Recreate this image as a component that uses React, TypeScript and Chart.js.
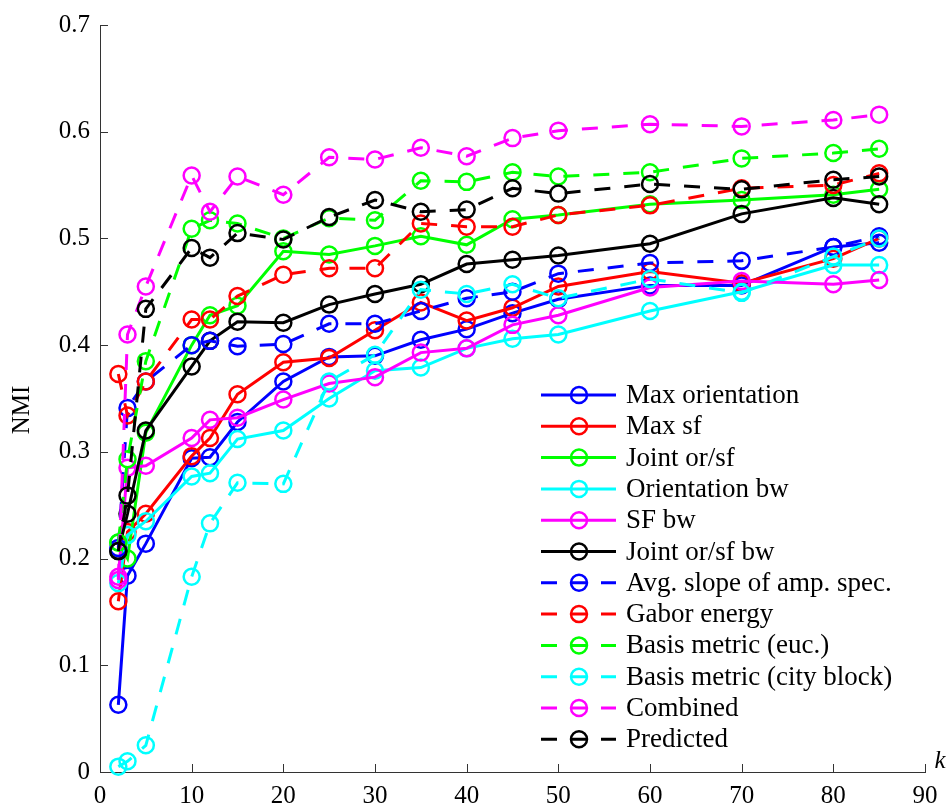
import React, { useEffect, useRef } from "react";
import { Chart, registerables } from "chart.js";

Chart.register(...registerables);

// ---- Data ----
const K = [2, 3, 5, 10, 12, 15, 20, 25, 30, 35, 40, 45, 50, 60, 70, 80, 85];

const maxOrientation = [0.063, 0.184, 0.214, 0.294, 0.295, 0.328, 0.366, 0.389, 0.39, 0.405, 0.415, 0.43, 0.443, 0.456, 0.456, 0.492, 0.496];
const maxSf = [0.16, 0.225, 0.242, 0.296, 0.313, 0.354, 0.384, 0.388, 0.414, 0.44, 0.423, 0.435, 0.455, 0.469, 0.458, 0.481, 0.5];
const jointOrSf = [0.215, 0.2, 0.318, 0.4, 0.428, 0.437, 0.488, 0.485, 0.493, 0.502, 0.494, 0.518, 0.522, 0.532, 0.536, 0.541, 0.546];
const orientationBw = [0.177, 0.222, 0.235, 0.277, 0.28, 0.312, 0.32, 0.35, 0.376, 0.379, 0.397, 0.406, 0.41, 0.432, 0.45, 0.475, 0.475];
const sfBw = [0.183, 0.285, 0.287, 0.313, 0.33, 0.332, 0.349, 0.364, 0.37, 0.393, 0.397, 0.419, 0.428, 0.454, 0.46, 0.457, 0.461];
const jointOrSfBw = [0.207, 0.242, 0.32, 0.38, 0.404, 0.422, 0.421, 0.438, 0.448, 0.457, 0.476, 0.48, 0.484, 0.495, 0.523, 0.538, 0.532];
const avgSlope = [0.21, 0.341, 0.366, 0.4, 0.404, 0.399, 0.401, 0.42, 0.42, 0.432, 0.444, 0.45, 0.467, 0.477, 0.479, 0.492, 0.502];
const gaborEnergy = [0.373, 0.334, 0.366, 0.424, 0.424, 0.446, 0.466, 0.472, 0.472, 0.514, 0.511, 0.511, 0.522, 0.531, 0.547, 0.55, 0.561];
const basisEuc = [0.215, 0.293, 0.385, 0.509, 0.517, 0.514, 0.5, 0.519, 0.517, 0.554, 0.553, 0.562, 0.558, 0.562, 0.575, 0.58, 0.584];
const basisCity = [0.005, 0.01, 0.025, 0.183, 0.233, 0.271, 0.27, 0.366, 0.391, 0.452, 0.448, 0.457, 0.444, 0.462, 0.449, 0.483, 0.5];
const combined = [0.18, 0.41, 0.455, 0.559, 0.525, 0.558, 0.541, 0.576, 0.574, 0.585, 0.577, 0.594, 0.601, 0.607, 0.605, 0.611, 0.616];
const predicted = [0.207, 0.259, 0.434, 0.491, 0.482, 0.505, 0.499, 0.52, 0.536, 0.525, 0.527, 0.547, 0.542, 0.551, 0.546, 0.555, 0.558];

const LABELS = [
  "Max orientation",
  "Max sf",
  "Joint or/sf",
  "Orientation bw",
  "SF bw",
  "Joint or/sf bw",
  "Avg. slope of amp. spec.",
  "Gabor energy",
  "Basis metric (euc.)",
  "Basis metric (city block)",
  "Combined",
  "Predicted",
];
const VALUES = [
  maxOrientation, maxSf, jointOrSf, orientationBw, sfBw, jointOrSfBw,
  avgSlope, gaborEnergy, basisEuc, basisCity, combined, predicted,
];
const COLORS = ["#0000ff", "#ff0000", "#00ff00", "#00ffff", "#ff00ff", "#000000",
  "#0000ff", "#ff0000", "#00ff00", "#00ffff", "#ff00ff", "#000000"];
const DASHED = [false, false, false, false, false, false, true, true, true, true, true, true];

const X_MIN = 0, X_MAX = 90, X_STEP = 10;
const Y_MIN = 0, Y_MAX = 0.7, Y_STEP = 0.1;
const X_LABEL = "k";
const Y_LABEL = "NMI";

const FONT = "'Liberation Serif', 'Times New Roman', serif";
const DASH = [16, 14];

const decorPlugin = {
  id: "decor",
  afterDraw(chart: any) {
    const ctx = chart.ctx;
    const { left, right, bottom } = chart.chartArea;
    const xs = chart.scales.x;
    const ys = chart.scales.y;
    ctx.save();
    // inward tick marks
    ctx.strokeStyle = "#333";
    ctx.lineWidth = 1;
    ctx.beginPath();
    for (let v = X_MIN + X_STEP; v <= X_MAX + 1e-9; v += X_STEP) {
      const px = Math.round(xs.getPixelForValue(v)) + 0.5;
      ctx.moveTo(px, bottom);
      ctx.lineTo(px, bottom - 8);
    }
    for (let i = 1; i * Y_STEP <= Y_MAX + 1e-9; i++) {
      const py = Math.round(ys.getPixelForValue(i * Y_STEP)) + 0.5;
      ctx.moveTo(left, py);
      ctx.lineTo(left + 8, py);
    }
    ctx.stroke();

    // axis labels
    ctx.fillStyle = "#000";
    ctx.font = `italic 25px ${FONT}`;
    ctx.textAlign = "center";
    ctx.textBaseline = "alphabetic";
    ctx.fillText(X_LABEL, right + 15, bottom - 4);

    ctx.save();
    ctx.translate(22, 410);
    ctx.rotate(-Math.PI / 2);
    ctx.font = `25px ${FONT}`;
    ctx.textBaseline = "middle";
    ctx.fillText(Y_LABEL, 0, 0);
    ctx.restore();

    // legend
    const lx0 = 541, lx1 = 616, mx = 579, tx = 626;
    const y0 = 395, dy = 31.3;
    LABELS.forEach((lab, i) => {
      const y = y0 + i * dy;
      const c = COLORS[i];
      ctx.strokeStyle = c;
      ctx.lineWidth = 3;
      ctx.setLineDash(DASHED[i] ? DASH : []);
      ctx.beginPath();
      ctx.moveTo(lx0, y);
      ctx.lineTo(lx1, y);
      ctx.stroke();
      ctx.setLineDash([]);
      ctx.lineWidth = 2.5;
      ctx.beginPath();
      ctx.arc(mx, y, 8, 0, Math.PI * 2);
      ctx.stroke();
      ctx.fillStyle = "#000";
      ctx.font = `27px ${FONT}`;
      ctx.textAlign = "left";
      ctx.textBaseline = "middle";
      ctx.fillText(lab, tx, y + 1);
    });
    ctx.restore();
  },
};

export default function App() {
  const ref = useRef<HTMLCanvasElement | null>(null);

  useEffect(() => {
    if (!ref.current) return;
    const n = LABELS.length;
    const datasets = LABELS.map((label, i) => ({
      label,
      data: K.map((k, j) => ({ x: k, y: VALUES[i][j] })),
      borderColor: COLORS[i],
      backgroundColor: "rgba(0,0,0,0)",
      pointBorderColor: COLORS[i],
      pointBackgroundColor: "rgba(0,0,0,0)",
      borderWidth: 3,
      pointRadius: 8,
      pointBorderWidth: 2.5,
      pointHoverRadius: 8,
      borderDash: DASHED[i] ? DASH : [],
      tension: 0,
      fill: false,
      clip: false as any,
      order: n - 1 - i,
    }));

    const chart = new Chart(ref.current, {
      type: "line",
      data: { datasets },
      options: {
        animation: false,
        responsive: false,
        devicePixelRatio: 1,
        layout: { padding: { left: 0, right: 25, top: 22, bottom: 0 } },
        plugins: { legend: { display: false }, tooltip: { enabled: false } },
        scales: {
          x: {
            type: "linear",
            min: X_MIN,
            max: X_MAX,
            ticks: {
              stepSize: X_STEP,
              color: "#000",
              font: { family: FONT, size: 25 },
              padding: 9,
              maxRotation: 0,
              autoSkip: false,
            },
            grid: { display: true, drawOnChartArea: false, drawTicks: false },
            border: { display: true, color: "#333", width: 1 },
            afterFit: (s: any) => { s.height = 34; },
          },
          y: {
            type: "linear",
            min: Y_MIN,
            max: Y_MAX,
            ticks: {
              stepSize: Y_STEP,
              color: "#000",
              font: { family: FONT, size: 25 },
              padding: 10,
              callback: (v: any) => (Math.abs(v) < 1e-9 ? "0" : Number(v).toFixed(1)),
            },
            grid: { display: true, drawOnChartArea: false, drawTicks: false },
            border: { display: true, color: "#333", width: 1 },
            afterFit: (s: any) => { s.width = 100; },
          },
        },
      },
      plugins: [decorPlugin],
    });
    return () => chart.destroy();
  }, []);

  return (
    <div style={{ position: "absolute", left: 0, top: 0, width: 950, height: 806, background: "#fff" }}>
      <canvas ref={ref} width={950} height={806} style={{ width: 950, height: 806, display: "block" }} />
    </div>
  );
}
